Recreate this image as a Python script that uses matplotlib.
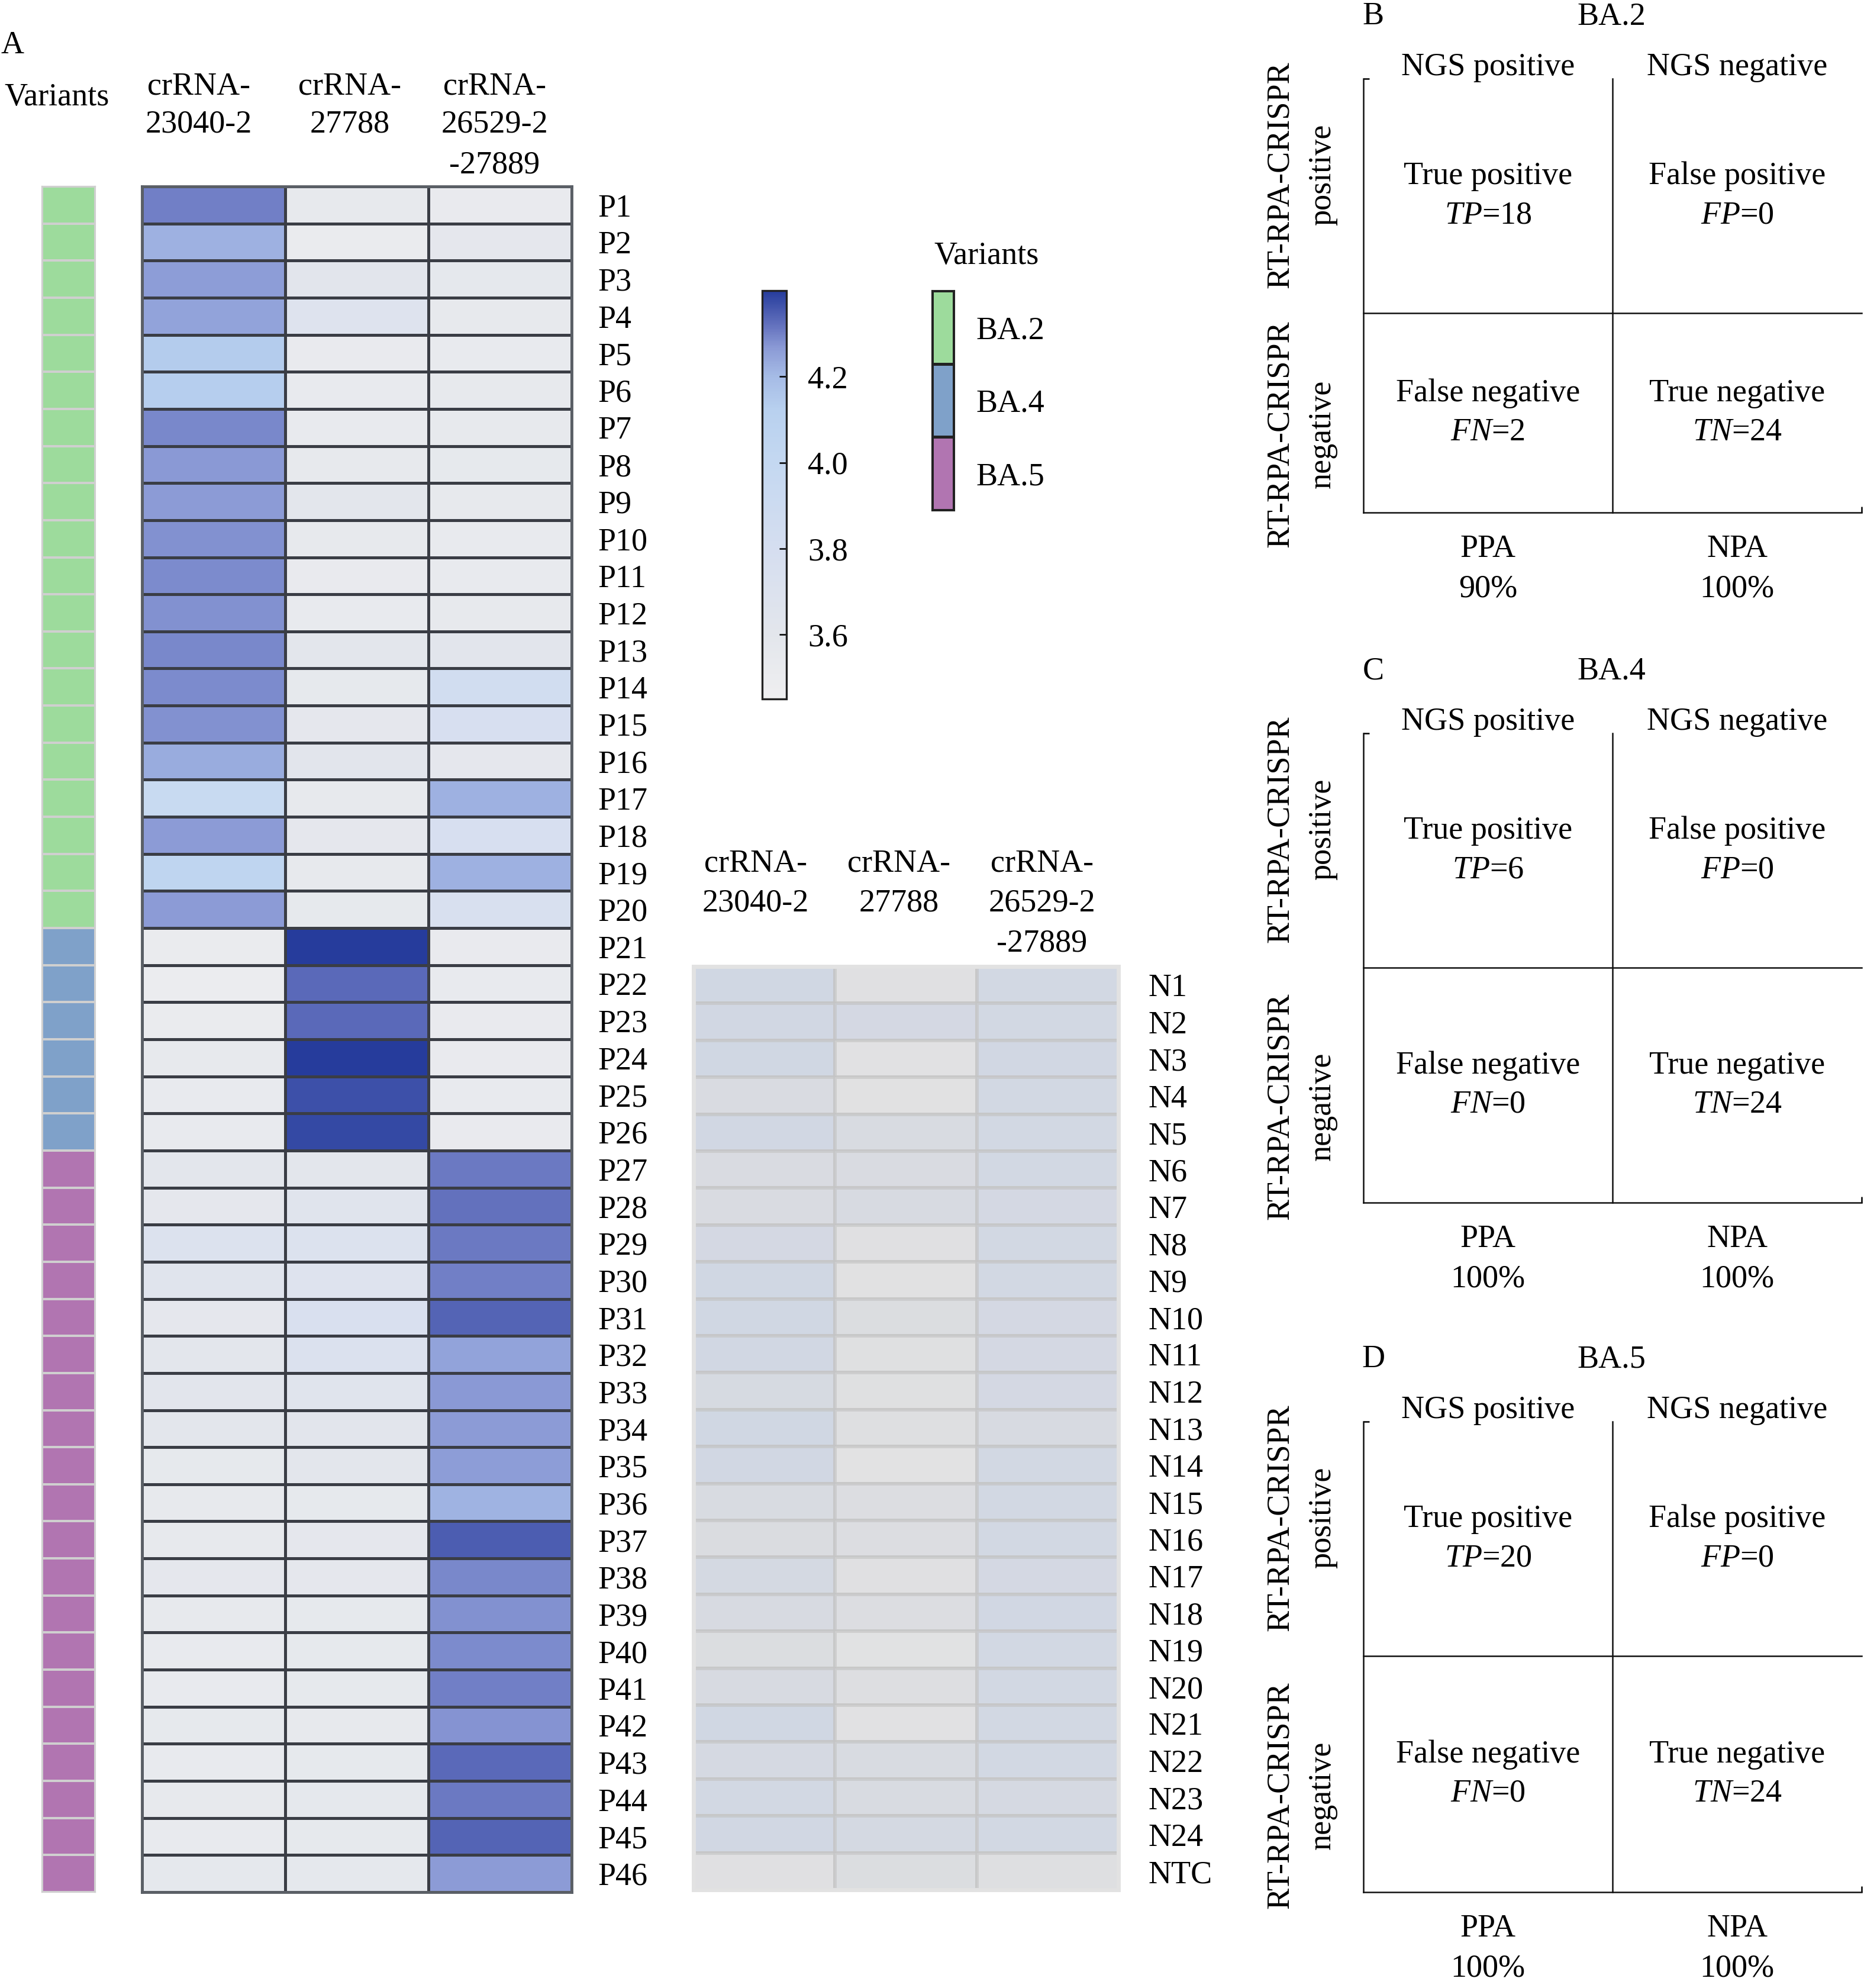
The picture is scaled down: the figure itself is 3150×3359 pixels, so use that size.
import numpy as np
import matplotlib
matplotlib.use('Agg')
import matplotlib.pyplot as plt
from matplotlib.colors import LinearSegmentedColormap, ListedColormap

plt.rcParams['font.family'] = ['Liberation Serif', 'DejaVu Serif']
plt.rcParams['mathtext.fontset'] = 'custom'
plt.rcParams['mathtext.rm'] = 'Liberation Serif'
plt.rcParams['mathtext.it'] = 'Liberation Serif:italic'

# ---------------- data ----------------
crrna_lines = [['crRNA-', '23040-2'], ['crRNA-', '27788'], ['crRNA-', '26529-2', '-27889']]
pos_labels = [f'P{i}' for i in range(1, 47)]
neg_labels = [f'N{i}' for i in range(1, 25)] + ['NTC']
variant_names = ['BA.2', 'BA.4', 'BA.5']
variant_colors = ['#9ddb9c', '#7fa1c9', '#b175b1']
pos_variant = [0] * 20 + [1] * 6 + [2] * 20

pos_23040 = [4.30, 4.22, 4.26, 4.25, 4.14, 4.13, 4.29, 4.27, 4.265, 4.28, 4.285, 4.28, 4.29, 4.285,
             4.28, 4.23, 3.95, 4.265, 4.05, 4.265,
             3.52, 3.50, 3.52, 3.55, 3.54, 3.54,
             3.60, 3.58, 3.70, 3.65, 3.58, 3.60, 3.62, 3.60, 3.56, 3.55, 3.55, 3.58, 3.55, 3.54,
             3.54, 3.56, 3.54, 3.55, 3.54, 3.57]
pos_27788 = [3.55, 3.52, 3.62, 3.68, 3.53, 3.54, 3.54, 3.55, 3.60, 3.55, 3.53, 3.54, 3.60, 3.56,
             3.58, 3.62, 3.55, 3.58, 3.55, 3.56,
             4.40, 4.33, 4.33, 4.40, 4.37, 4.38,
             3.60, 3.65, 3.70, 3.68, 3.75, 3.72, 3.65, 3.62, 3.60, 3.56, 3.58, 3.58, 3.56, 3.56,
             3.56, 3.55, 3.56, 3.57, 3.56, 3.57]
pos_26529 = [3.53, 3.58, 3.57, 3.55, 3.54, 3.55, 3.55, 3.56, 3.55, 3.54, 3.54, 3.55, 3.62, 3.85,
             3.78, 3.58, 4.22, 3.78, 4.22, 3.76,
             3.53, 3.54, 3.53, 3.53, 3.54, 3.53,
             4.31, 4.32, 4.31, 4.30, 4.34, 4.25, 4.27, 4.265, 4.26, 4.215, 4.35, 4.29, 4.28, 4.285,
             4.30, 4.275, 4.33, 4.31, 4.34, 4.265]

neg_23040 = [3.85, 3.82, 3.85, 3.65, 3.83, 3.65, 3.64, 3.78, 3.84, 3.85, 3.82, 3.72, 3.84, 3.83,
             3.68, 3.62, 3.76, 3.70, 3.60, 3.70, 3.84, 3.74, 3.80, 3.83, 3.50]
neg_27788 = [3.50, 3.78, 3.47, 3.48, 3.68, 3.65, 3.70, 3.50, 3.48, 3.60, 3.52, 3.52, 3.53, 3.45,
             3.58, 3.58, 3.50, 3.58, 3.46, 3.56, 3.47, 3.66, 3.66, 3.76, 3.60]
neg_26529 = [3.80, 3.80, 3.82, 3.80, 3.80, 3.80, 3.78, 3.80, 3.80, 3.78, 3.78, 3.78, 3.70, 3.80,
             3.80, 3.80, 3.78, 3.82, 3.80, 3.80, 3.80, 3.80, 3.74, 3.80, 3.53]

cbar_ticks = [3.6, 3.8, 4.0, 4.2]
vmin, vmax = 3.45, 4.40

panel_letters = ['B', 'C', 'D']
panel_variants = ['BA.2', 'BA.4', 'BA.5']
tp_vals = [18, 6, 20]
fp_vals = [0, 0, 0]
fn_vals = [2, 0, 0]
tn_vals = [24, 24, 24]
ppa_vals = ['90%', '100%', '100%']
npa_vals = ['100%', '100%', '100%']

# ---------------- figure ----------------
W, H = 3150, 3359
fig = plt.figure(figsize=(W / 100, H / 100), dpi=100)
FS = 39


def add_ax(x0, y0, x1, y1):
    return fig.add_axes([x0 / W, 1 - y1 / H, (x1 - x0) / W, (y1 - y0) / H])


def ftext(x, y, s, **kw):
    kw.setdefault('fontsize', FS)
    kw.setdefault('ha', 'center')
    kw.setdefault('va', 'center')
    return fig.text(x / W, 1 - y / H, s, **kw)


stop_vals = [3.45, 3.60, 3.80, 4.00, 4.12, 4.20, 4.27, 4.32, 4.40]
stop_cols = ['#efeff0', '#e3e6ec', '#d5def0', '#c4d8f1', '#b9d1ef', '#a6bce6', '#8a99d5',
             '#6472be', '#263c9c']
cmap = LinearSegmentedColormap.from_list(
    'cr', [((v - vmin) / (vmax - vmin), c) for v, c in zip(stop_vals, stop_cols)])

# positive heatmap
pos = np.column_stack([pos_23040, pos_27788, pos_26529])
ax = add_ax(240, 315, 966, 3197)
mesh = ax.pcolormesh(pos, cmap=cmap, vmin=vmin, vmax=vmax, edgecolors='#3a3d45', linewidth=3.6)
ax.set_xlim(0, 3)
ax.set_ylim(len(pos_labels), 0)
ax.set_xticks([])
ax.set_yticks(np.arange(len(pos_labels)) + 0.5)
ax.set_yticklabels(pos_labels, fontsize=FS)
ax.yaxis.tick_right()
ax.tick_params(axis='y', length=0, pad=32)
for s in ax.spines.values():
    s.set_color('#5a5f66')
    s.set_linewidth(3.5)

# variant annotation bar
axv = add_ax(71, 315, 161, 3197)
axv.pcolormesh(np.array(pos_variant)[:, None], cmap=ListedColormap(variant_colors), vmin=-0.5,
               vmax=2.5, edgecolors='#cfcfcf', linewidth=1.6)
axv.set_ylim(len(pos_variant), 0)
axv.set_xticks([])
axv.set_yticks([])
for s in axv.spines.values():
    s.set_color('#cfcfcf')
    s.set_linewidth(1.6)

ftext(21, 77, 'A')
ftext(96, 165, 'Variants')

header_x = [336, 591, 836]
header_y = [146, 210, 279]
for cx, lines in zip(header_x, crrna_lines):
    for yy, ln in zip(header_y, lines):
        ftext(cx, yy, ln)

# negative heatmap
neg = np.column_stack([neg_23040, neg_27788, neg_26529])
axn = add_ax(1172, 1633, 1890, 3193)
axn.set_facecolor('#d0d0d0')
axn.pcolormesh(neg, cmap=cmap, vmin=vmin, vmax=vmax, edgecolors='#c4c4c4', linewidth=3,
               alpha=0.6)
axn.set_xlim(0, 3)
axn.set_ylim(len(neg_labels), 0)
axn.set_xticks([])
axn.set_yticks(np.arange(len(neg_labels)) + 0.5)
axn.set_yticklabels(neg_labels, fontsize=FS)
axn.yaxis.tick_right()
axn.tick_params(axis='y', length=0, pad=36)
for s in axn.spines.values():
    s.set_color('#e2e2e2')
    s.set_linewidth(5)

neg_header_x = [1277, 1519, 1761]
neg_header_y = [1459, 1526, 1594]
for cx, lines in zip(neg_header_x, crrna_lines):
    for yy, ln in zip(neg_header_y, lines):
        ftext(cx, yy, ln)

# colorbar
cax = add_ax(1288, 491, 1329, 1181)
cb = fig.colorbar(mesh, cax=cax, ticks=cbar_ticks)
cb.outline.set_linewidth(2.4)
cb.outline.set_edgecolor('#222222')
cax.yaxis.set_ticks_position('right')
cax.tick_params(axis='y', direction='in', length=9, width=1.8, pad=26, labelsize=FS)
cax.set_yticklabels([f'{t:.1f}' for t in cbar_ticks])

# variant legend
lax = add_ax(1575, 491, 1612, 862)
lax.pcolormesh(np.arange(3)[:, None], cmap=ListedColormap(variant_colors), vmin=-0.5, vmax=2.5,
               edgecolors='#222222', linewidth=2.2)
lax.set_ylim(3, 0)
lax.set_xticks([])
lax.set_yticks(np.arange(3) + 0.5)
lax.set_yticklabels(variant_names, fontsize=FS)
lax.yaxis.tick_right()
lax.tick_params(axis='y', length=0, pad=27)
for s in lax.spines.values():
    s.set_linewidth(2.2)
    s.set_color('#222222')
ftext(1667, 433, 'Variants')

# ---------------- confusion panels ----------------
panel_tops = [133, 1239, 2402]
panel_bottoms = [866, 2032, 3197]
upper_h = 396
x_left, x_right = 2304, 3146
for k in range(3):
    T, Bm = panel_tops[k], panel_bottoms[k]
    h = Bm - T
    pa = add_ax(x_left, T, x_right, Bm)
    pa.set_xlim(0, 2)
    pa.set_ylim(h, 0)
    pa.patch.set_alpha(0)
    for sname in ['top', 'right']:
        pa.spines[sname].set_visible(False)
    for sname in ['left', 'bottom']:
        pa.spines[sname].set_linewidth(1.8)
        pa.spines[sname].set_color('#111111')
    pa.set_yticks([0])
    pa.set_xticks([2])
    pa.tick_params(direction='in', length=7, width=1.8, labelleft=False, labelbottom=False)
    pa.plot([1, 1], [0, h], color='#111111', lw=1.8, clip_on=False)
    pa.plot([0, 2], [upper_h, upper_h], color='#111111', lw=1.8, clip_on=False)

    def ptxt(x, y, s, **kw):
        kw.setdefault('fontsize', FS)
        kw.setdefault('ha', 'center')
        kw.setdefault('va', 'center')
        pa.text(x, y, s, clip_on=False, **kw)

    ptxt(0.04, -105, panel_letters[k])
    ptxt(0.995, -105, panel_variants[k])
    ptxt(0.5, -19, 'NGS positive')
    ptxt(1.5, -19, 'NGS negative')
    uc = upper_h / 2
    lc = (upper_h + h) / 2
    d = 33
    ptxt(0.5, uc - d, 'True positive')
    ptxt(0.5, uc + d, r'$\mathit{TP}$=' + str(tp_vals[k]))
    ptxt(1.5, uc - d, 'False positive')
    ptxt(1.5, uc + d, r'$\mathit{FP}$=' + str(fp_vals[k]))
    ptxt(0.5, lc - d, 'False negative')
    ptxt(0.5, lc + d, r'$\mathit{FN}$=' + str(fn_vals[k]))
    ptxt(1.5, lc - d, 'True negative')
    ptxt(1.5, lc + d, r'$\mathit{TN}$=' + str(tn_vals[k]))
    ptxt(0.5, h + 62, 'PPA')
    ptxt(0.5, h + 129, ppa_vals[k])
    ptxt(1.5, h + 62, 'NPA')
    ptxt(1.5, h + 129, npa_vals[k])
    ptxt(-0.333, uc - 36, 'RT-RPA-CRISPR', rotation=90)
    ptxt(-0.164, uc - 36, 'positive', rotation=90)
    ptxt(-0.333, lc + 36, 'RT-RPA-CRISPR', rotation=90)
    ptxt(-0.164, lc + 36, 'negative', rotation=90)

fig.savefig('out.png', dpi=100, facecolor='white')
